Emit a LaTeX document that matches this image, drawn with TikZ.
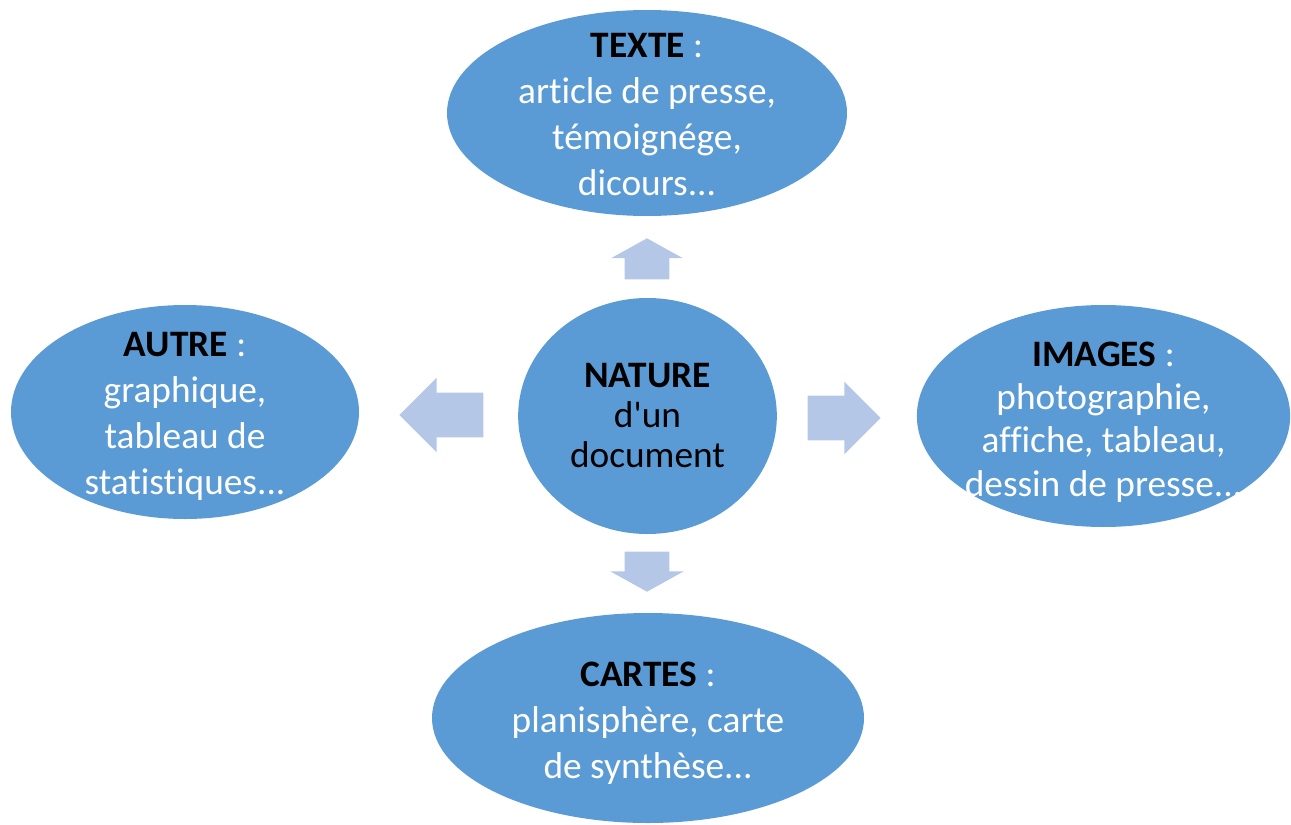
\documentclass[tikz,border=0pt]{standalone}
\usepackage{fontspec}
\setmainfont{Carlito}[Ligatures=NoCommon]
\usepackage{tikz}
\usetikzlibrary{shapes.geometric,shapes.arrows}
\definecolor{bubblefill}{HTML}{5B9BD5}
\definecolor{arrowfill}{HTML}{B4C7E7}
\tikzstyle{bubble}=[ellipse, fill=bubblefill, inner sep=0pt]
\tikzstyle{bigarrow}=[single arrow, fill=arrowfill, anchor=tip, inner xsep=0pt, inner ysep=16.5pt, single arrow head indent=0pt]
\newcommand{\bubble}{\node[bubble]}
\newcommand{\bigarrow}{\node[bigarrow]}
\newcommand{\titre}[1]{\textcolor{black}{\textbf{#1}}}

\begin{document}
\begin{tikzpicture}[x=.75pt, y=-.75pt, every label/.style={align=center, text=white, font=\fontsize{28}{34.5}\selectfont}]
\useasboundingbox (0,0) rectangle (1291,824);
\bubble (nature) at (647.5,416) [minimum width=194pt, minimum height=177pt][label={[text=black, font=\fontsize{28}{30}\selectfont]center:{\textbf{NATURE}\\d\textquotesingle un\\document}}]{};
\bubble (texte) at (647,113) [minimum width=300pt, minimum height=154.5pt][label={[yshift=-1.5pt]center:{\titre{TEXTE} :\\article de presse,\\témoignége,\\dicours...}}]{};
\bubble (autre) at (185,412) [minimum width=261pt, minimum height=160.5pt][label={[yshift=-3.5pt]center:{\titre{AUTRE} :\\graphique,\\tableau de\\statistiques...}}]{};
\bubble (images) at (1103.5,416) [minimum width=280pt, minimum height=166.5pt][label={[yshift=-4.5pt, font=\fontsize{28}{32.5}\selectfont]center:{\titre{IMAGES} :\\photographie,\\affiche, tableau,\\dessin de presse...}}]{};
\bubble (cartes) at (648,718) [minimum width=324pt, minimum height=157.5pt][label={[yshift=-4pt]center:{\titre{CARTES} :\\planisphère, carte\\de synthèse...}}]{};
\bigarrow (haut) at (647,238) [rotate=90, minimum height=30.75pt, single arrow head extend=10.1pt, single arrow tip angle=122]{};
\bigarrow (bas) at (647,592) [rotate=-90, minimum height=30pt, single arrow head extend=10.9pt, single arrow tip angle=122]{};
\bigarrow (gauche) at (399,415) [rotate=180, minimum height=63pt, single arrow head extend=11.25pt, single arrow tip angle=90]{};
\bigarrow (droite) at (881,418) [minimum height=54.75pt, single arrow head extend=10.5pt, single arrow tip angle=90]{};
\end{tikzpicture}
\end{document}
